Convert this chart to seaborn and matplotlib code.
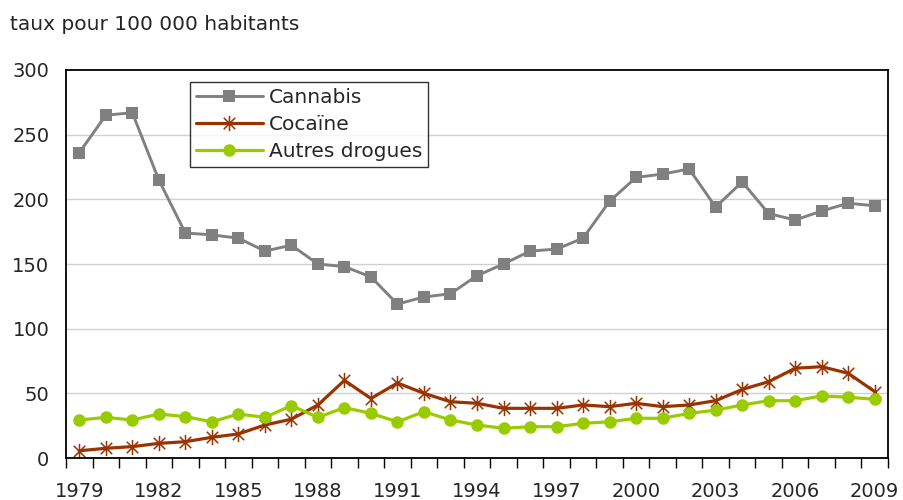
import numpy as np
import pandas as pd
import matplotlib
matplotlib.use('Agg')
import matplotlib.pyplot as plt
from matplotlib.path import Path
import seaborn as sns

YEARS = list(range(1979, 2010))
CANNABIS = [236, 265, 267, 215, 174, 172.5, 170, 160, 164.5, 150, 148, 140, 119, 124.5, 127, 141,
            150, 160, 161.5, 170, 198.5, 217, 219.5, 223.5, 194, 213.5, 189, 184, 191, 197, 195]
COCAINE = [5.6, 7.5, 8.8, 11.3, 12.6, 16, 18.6, 25.5, 30, 41, 60, 46, 58, 50, 43.5, 42.3,
           38.4, 38.4, 38.4, 41, 39.7, 42.3, 39.7, 41, 44.3, 53, 59, 69.4, 70.6, 65.5, 51.3]
AUTRES = [29.4, 31.4, 29.4, 34, 32, 28, 34, 31.4, 40.5, 31.4, 39, 34.5, 28, 35.8, 29.4, 25.5,
          23, 24.2, 24.2, 26.8, 28, 30.7, 30.7, 34.5, 37, 41, 44.3, 44.3, 48, 47, 45.4]
SERIES = ['Cannabis', 'Cocaïne', 'Autres drogues']
Y_TICKS = [0, 50, 100, 150, 200, 250, 300]
X_LABEL_YEARS = list(range(1979, 2010, 3))

df = pd.DataFrame({'Année': YEARS * 3,
                   'Taux': CANNABIS + COCAINE + AUTRES,
                   'Drogue': [s for s in SERIES for _ in YEARS]})

# asterisque comme dans Excel : X + trait vertical
star = Path([(0, -1), (0, 1), (-0.75, -0.75), (0.75, 0.75), (-0.75, 0.75), (0.75, -0.75)],
            [Path.MOVETO, Path.LINETO, Path.MOVETO, Path.LINETO, Path.MOVETO, Path.LINETO])
styles = {'Cannabis': dict(color='#808080', marker='s', markersize=8, lw=2.1, mew=0),
          'Cocaïne': dict(color='#993300', marker=star, markersize=11, lw=2.3, mew=1.1),
          'Autres drogues': dict(color='#99CC00', marker='o', markersize=9, lw=2.3, mew=0)}

sns.set_style('white')
plt.rcParams['font.family'] = ['DejaVu Sans']
fig = plt.figure(figsize=(9.04, 5.0), dpi=100)
ax = fig.add_axes([66 / 904, 1 - 458 / 500, 822 / 904, 388 / 500])

for name in SERIES:
    st = styles[name]
    sns.lineplot(data=df[df['Drogue'] == name], x='Année', y='Taux', ax=ax, label=name,
                 color=st['color'], marker=st['marker'], markersize=st['markersize'],
                 linewidth=st['lw'], markeredgewidth=st['mew'],
                 markeredgecolor=st['color'], markerfacecolor=st['color'])

ax.set_xlim(YEARS[0] - 0.5, YEARS[-1] + 0.5)
ax.set_ylim(0, 300)
ax.set_yticks(Y_TICKS)
ax.set_yticklabels([str(v) for v in Y_TICKS], fontsize=14)
ax.tick_params(axis='y', length=0, pad=12)
for v in Y_TICKS[1:-1]:
    ax.axhline(v, color='#d0d0d0', lw=1, zorder=0)

ax.set_xticks([y - 0.5 for y in YEARS] + [YEARS[-1] + 0.5])
ax.set_xticklabels([])
ax.tick_params(axis='x', which='major', length=7, width=1, color='black', direction='out', bottom=True)
ax.set_xticks(X_LABEL_YEARS, minor=True)
ax.set_xticklabels([str(y) for y in X_LABEL_YEARS], minor=True, fontsize=14)
ax.tick_params(axis='x', which='minor', length=0, pad=17)
ax.set_xlabel('')
ax.set_ylabel('')

for sp in ax.spines.values():
    sp.set_visible(True)
    sp.set_color('black')
    sp.set_linewidth(1.3)

leg = ax.legend(loc='upper left', bbox_to_anchor=(0.151, 0.969), borderaxespad=0,
                fontsize=14.5, frameon=True, fancybox=False, handlelength=3.3,
                handletextpad=0.3, labelspacing=0.4, borderpad=0.3)
leg.get_frame().set_edgecolor('black')
leg.get_frame().set_linewidth(1)

fig.text(0.011, 0.95, 'taux pour 100 000 habitants', fontsize=14.5, va='center', ha='left')

fig.savefig('out.png', dpi=100)
